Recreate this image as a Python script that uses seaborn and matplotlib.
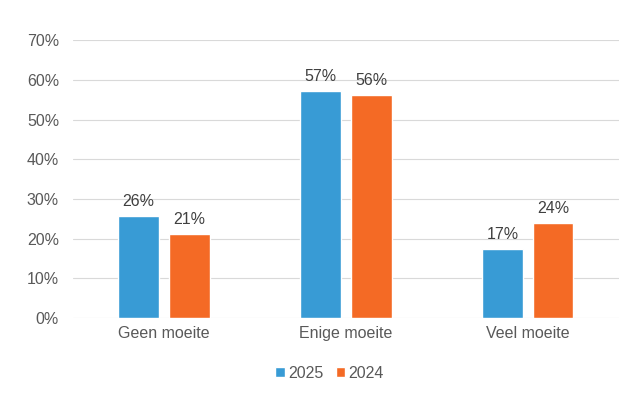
import matplotlib.pyplot as plt
import pandas as pd
import seaborn as sns
from matplotlib.ticker import PercentFormatter

# Data
categories = ["Geen moeite", "Enige moeite", "Veel moeite"]
values_2025 = [25.7, 57.2, 17.4]
values_2024 = [21.2, 56.2, 23.9]
years = ["2025", "2024"]

df = pd.DataFrame({
    "categorie": categories * 2,
    "jaar": [years[0]] * 3 + [years[1]] * 3,
    "waarde": values_2025 + values_2024,
})

sns.set_theme(style="white")
plt.rcParams["font.family"] = ["Liberation Sans", "DejaVu Sans"]
text_color = "#595959"

fig = plt.figure(figsize=(6.4, 3.98), dpi=100)
ax = fig.add_axes([0.114, 0.201, 0.853, 0.698])

sns.barplot(data=df, x="categorie", y="waarde", hue="jaar", order=categories,
            hue_order=years, palette=["#389BD5", "#F46A25"], saturation=1,
            width=0.56, gap=0.21, ax=ax, legend=True)

for container in ax.containers:
    ax.bar_label(container, fmt="%.0f%%", padding=5, fontsize=11.5, color="#404040")

ax.set_ylim(0, 70)
ax.set_yticks(range(0, 71, 10))
ax.yaxis.set_major_formatter(PercentFormatter(decimals=0))
ax.grid(axis="y", color="#d9d9d9", linewidth=0.8)
ax.set_axisbelow(True)
for s in ax.spines.values():
    s.set_visible(False)
ax.set_xlabel("")
ax.set_ylabel("")
ax.tick_params(axis="both", length=0, labelsize=11.5, labelcolor=text_color)
ax.tick_params(axis="y", pad=10)
ax.tick_params(axis="x", pad=6)

ax.legend(loc="upper center", bbox_to_anchor=(0.47, -0.12), ncol=2, frameon=False,
          fontsize=11.5, handlelength=0.6, handleheight=0.6, columnspacing=0.8,
          handletextpad=0.2, labelcolor=text_color)

fig.savefig("out.png", dpi=100)
